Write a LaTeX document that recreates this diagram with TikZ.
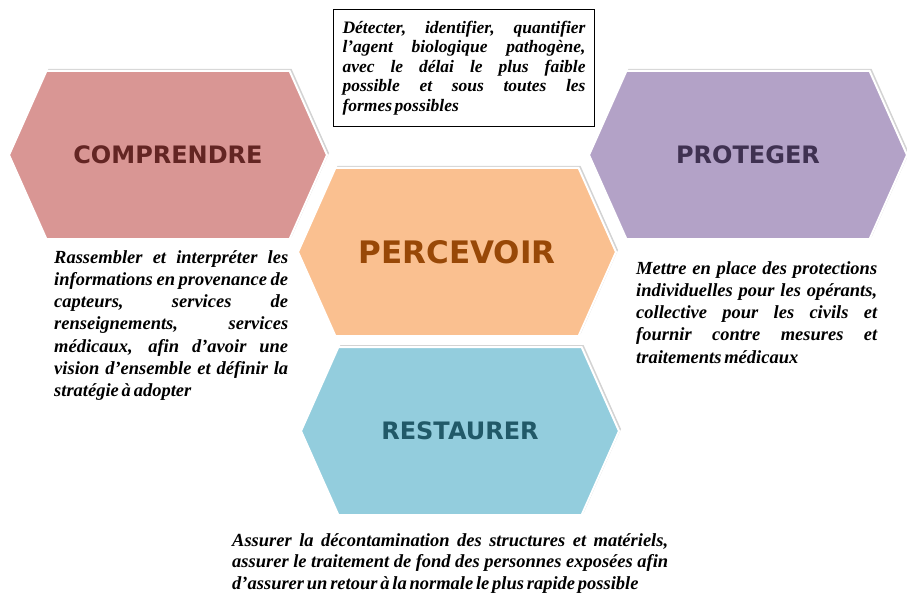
\documentclass[tikz,border=0pt]{standalone}
\usepackage{fontspec}
\setmainfont[WordSpace=0.6]{Liberation Serif}
\newfontfamily\hexfont{DejaVu Sans}
\usetikzlibrary{shapes.symbols, shadows, positioning}

\definecolor{comprfill}{HTML}{D99694}
\definecolor{comprtext}{HTML}{632523}
\definecolor{percfill}{HTML}{FAC090}
\definecolor{perctext}{HTML}{984807}
\definecolor{protfill}{HTML}{B3A2C7}
\definecolor{prottext}{HTML}{3F3151}
\definecolor{restfill}{HTML}{93CDDD}
\definecolor{resttext}{HTML}{215968}

\begin{document}
\begin{tikzpicture}[x=1pt, y=-1pt,
  hexa/.style={signal, signal to=west and east, signal pointer angle=132,
    minimum width=318pt, minimum height=168pt, inner sep=0pt,
    draw=white, line width=2pt,
    drop shadow={shadow xshift=2pt, shadow yshift=2pt, opacity=0.35, fill=gray},
    font=\hexfont\bfseries\fontsize{24}{28}\selectfont},
  descr/.style={anchor=north west, inner sep=0pt, align=justify,
    font=\bfseries\itshape\fontsize{18.5}{22.3}\selectfont}]
\useasboundingbox (0,0) rectangle (907,596);

% les quatre hexagones
\node[hexa, fill=comprfill, text=comprtext](compr) at (168,155) {COMPRENDRE};
\node[hexa, fill=protfill, text=prottext](prot) at (748,155) {PROTEGER};
\node[hexa, fill=restfill, text=resttext](rest) at (460,431) {RESTAURER};
\node[hexa, fill=percfill, text=perctext, font=\hexfont\bfseries\fontsize{31}{35}\selectfont](perc) at (457,252) {PERCEVOIR};

% textes
\node[draw, line width=0.8pt, text width=243pt, minimum height=117pt, inner xsep=9pt, inner ysep=6pt, align=justify,
  font=\bfseries\itshape\fontsize{17.5}{19.6}\selectfont](tperc) at (464,68)
  {Détecter, identifier, quantifier\linebreak
   l’agent biologique pathogène,\linebreak
   avec le délai le plus faible\linebreak
   possible et sous toutes les\linebreak
   formes possibles};
\node[descr, text width=234pt](tcompr) at (54,250)
  {Rassembler et interpréter les\linebreak
   informations en provenance de\linebreak
   capteurs, services de\linebreak
   renseignements, services\linebreak
   médicaux, afin d’avoir une\linebreak
   vision d’ensemble et définir la\linebreak
   stratégie à adopter};
\node[descr, text width=241pt](tprot) at (636,261)
  {Mettre en place des protections\linebreak
   individuelles pour les opérants,\linebreak
   collective pour les civils et\linebreak
   fournir contre mesures et\linebreak
   traitements médicaux};
\node[descr, text width=436pt, font=\bfseries\itshape\fontsize{18.5}{21.8}\selectfont](trest) at (232,533)
  {Assurer la décontamination des structures et matériels,\linebreak
   assurer le traitement de fond des personnes exposées afin\linebreak
   d’assurer un retour à la normale le plus rapide possible};

\end{tikzpicture}
\end{document}
